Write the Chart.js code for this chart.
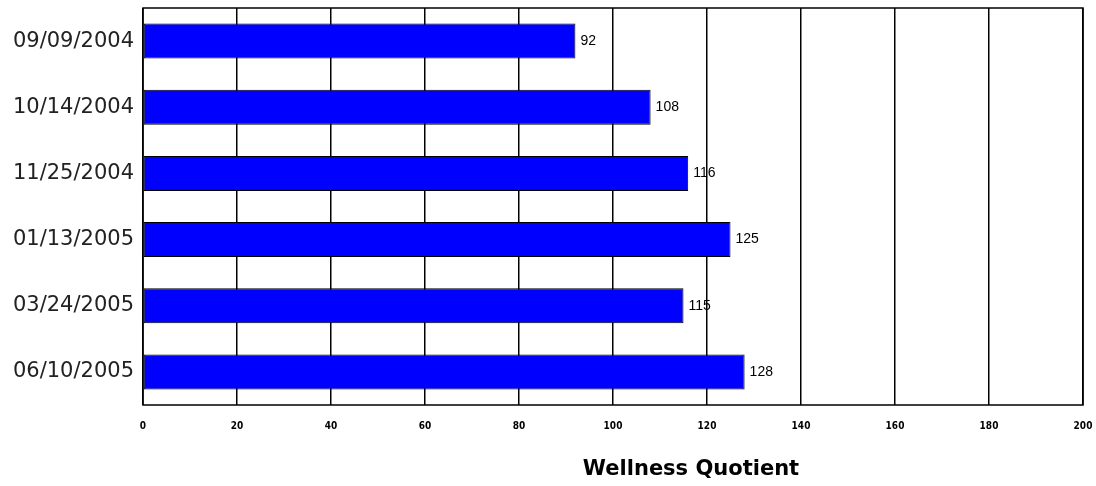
<!DOCTYPE html>
<html>
<head>
<meta charset="utf-8">
<script src="https://cdn.jsdelivr.net/npm/chart.js@4.4.0/dist/chart.umd.min.js"></script>
<style>
    html, body { margin: 0; padding: 0; background: #fff; }
    #wrap { width: 1096px; height: 486px; }
</style>
</head>
<body>
<div id="wrap"><canvas id="bar" width="1096" height="486"></canvas></div>
<script>
// Visit dates and the score measured on each
const visitDates = ["09/09/2004", "10/14/2004", "11/25/2004", "01/13/2005", "03/24/2005", "06/10/2005"];
const quotients = [92, 108, 116, 125, 115, 128];
const xTicks = [0, 20, 40, 60, 80, 100, 120, 140, 160, 180, 200];
const axisTitle = "Wellness Quotient";

// Box around the plot area
const frame = {
    id: "frame",
    afterDraw(chart) {
        const a = chart.chartArea;
        const ctx = chart.ctx;
        ctx.save();
        ctx.strokeStyle = "#000";
        ctx.lineWidth = 1.5;
        ctx.strokeRect(a.left, a.top, a.right - a.left, a.bottom - a.top);
        ctx.restore();
    }
};

// Numbers next to each bar end
const valueLabels = {
    id: "valueLabels",
    afterDatasetsDraw(chart) {
        const ctx = chart.ctx;
        const meta = chart.getDatasetMeta(0);
        ctx.save();
        ctx.font = "14px 'Liberation Sans', Arial, sans-serif";
        ctx.fillStyle = "#000";
        ctx.textAlign = "left";
        ctx.textBaseline = "middle";
        meta.data.forEach((bar, i) => {
            ctx.fillText(String(quotients[i]), bar.x + 5, bar.y);
        });
        ctx.restore();
    }
};

// Axis caption, set to the right of the plot centre
const caption = {
    id: "caption",
    afterDraw(chart) {
        const ctx = chart.ctx;
        const a = chart.chartArea;
        ctx.save();
        ctx.font = "bold 21px 'DejaVu Sans', Verdana, sans-serif";
        ctx.fillStyle = "#000";
        ctx.textAlign = "center";
        ctx.textBaseline = "middle";
        ctx.fillText(axisTitle, (a.left + a.right) / 2 + 78, 470);
        ctx.restore();
    }
};

const ctx = document.getElementById("bar").getContext("2d");

new Chart(ctx, {
    type: "bar",
    data: {
        labels: visitDates,
        datasets: [
            {
                data: quotients,
                backgroundColor: "#0000ff",
                borderColor: "#000",
                borderWidth: 1,
                borderSkipped: false,
                categoryPercentage: 0.53,
                barPercentage: 1.0,
            },
        ],
    },
    options: {
        indexAxis: "y",
        responsive: false,
        animation: false,
        layout: { padding: { top: 8, right: 13, left: 0, bottom: 0 } },
        plugins: {
            legend: { display: false },
            tooltip: { enabled: false },
        },
        scales: {
            x: {
                min: 0,
                max: 200,
                afterBuildTicks: (scale) => {
                    scale.ticks = xTicks.map((v) => ({ value: v }));
                },
                // fixed height, and no extra room for the end labels
                afterFit: (scale) => {
                    scale.height = 81;
                    scale.paddingLeft = 0;
                    scale.paddingRight = 0;
                },
                grid: { color: "#000", lineWidth: 1.5, drawTicks: false },
                border: { display: false },
                ticks: {
                    padding: 15,
                    color: "#000",
                    font: { size: 10, weight: "bold", family: "'DejaVu Sans Condensed', 'Liberation Sans', sans-serif" },
                },
            },
            y: {
                afterFit: (scale) => {
                    scale.width = 143;
                    scale.paddingTop = 0;
                    scale.paddingBottom = 0;
                },
                grid: { display: false, drawTicks: false },
                border: { display: false },
                ticks: {
                    padding: 9,
                    color: "#222",
                    font: { size: 21, family: "'DejaVu Sans', 'Liberation Sans', sans-serif" },
                },
            },
        },
    },
    plugins: [frame, valueLabels, caption],
});
</script>
</body>
</html>
